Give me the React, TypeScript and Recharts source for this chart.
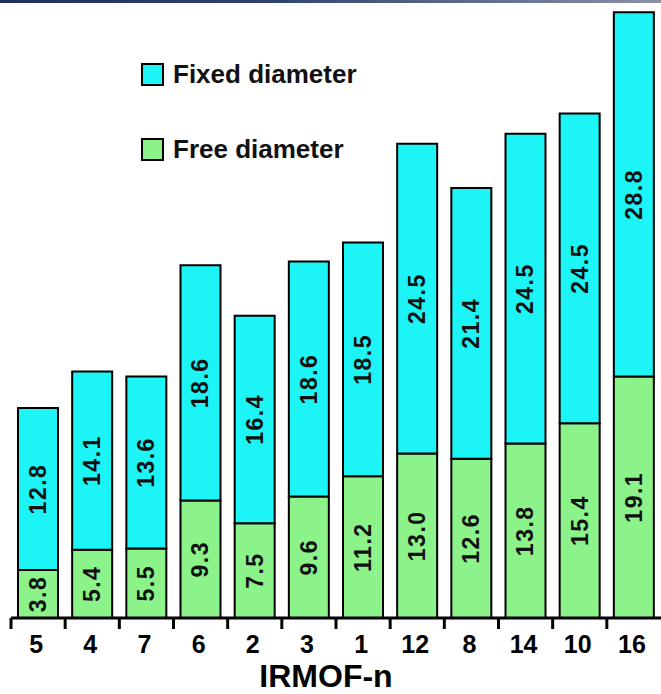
import React from "react";
import { BarChart, Bar, XAxis, YAxis, LabelList, Label } from "recharts";

const categories = ["5", "4", "7", "6", "2", "3", "1", "12", "8", "14", "10", "16"];
const freeDiameter = [3.8, 5.4, 5.5, 9.3, 7.5, 9.6, 11.2, 13.0, 12.6, 13.8, 15.4, 19.1];
const fixedDiameter = [12.8, 14.1, 13.6, 18.6, 16.4, 18.6, 18.5, 24.5, 21.4, 24.5, 24.5, 28.8];

const series = [
  { key: "fixed", name: "Fixed diameter", color: "#1cf4f6" },
  { key: "free", name: "Free diameter", color: "#8cf28a" },
];

const data = categories.map((c, i) => ({
  name: c,
  free: freeDiameter[i],
  fixed: fixedDiameter[i],
}));

const W = 661;
const H = 694;
const margin = { top: 11, right: 0, left: 11, bottom: 0 };
const step = (W - margin.left - margin.right) / categories.length;
const FONT = "'Liberation Sans', Arial, Helvetica, sans-serif";

const BarValue = (props: any) => {
  const { x, y, width, height, value } = props;
  const cx = x + width / 2;
  const cy = y + height / 2;
  return (
    <text
      x={cx}
      y={cy}
      transform={`rotate(-90 ${cx} ${cy})`}
      textAnchor="middle"
      dominantBaseline="central"
      fontFamily={FONT}
      fontWeight="bold"
      fontSize={23}
      letterSpacing={1.5}
      fill="#111"
    >
      {Number(value).toFixed(1)}
    </text>
  );
};

const Tick = (props: any) => {
  const { x, y, payload } = props;
  const left = x - step / 2;
  return (
    <g>
      <line x1={left} y1={y} x2={left} y2={y + 11} stroke="#000" strokeWidth={3} />
      <text
        x={x - 2}
        y={y + 35}
        textAnchor="middle"
        fontFamily={FONT}
        fontWeight="bold"
        fontSize={25}
        fill="#000"
      >
        {payload.value}
      </text>
    </g>
  );
};

const LegendBox = () => (
  <div style={{ position: "absolute", left: 141, top: 60 }}>
    {series.map((it, i) => (
      <div
        key={it.key}
        style={{
          display: "flex",
          alignItems: "center",
          height: 28,
          marginBottom: i === 0 ? 47 : 0,
        }}
      >
        <span
          style={{
            width: 19,
            height: 19,
            background: it.color,
            border: "2.5px solid #000",
            display: "inline-block",
            marginRight: 9,
          }}
        />
        <span style={{ fontFamily: FONT, fontWeight: "bold", fontSize: 26, color: "#111" }}>
          {it.name}
        </span>
      </div>
    ))}
  </div>
);

export default function App() {
  return (
    <div style={{ position: "absolute", left: 0, top: 0, width: W, height: H, background: "#fff" }}>
      <div
        style={{
          position: "absolute",
          left: 0,
          top: 0,
          width: W,
          height: 3,
          background: "linear-gradient(to right, #1c3160, #2e4270 40%, #8c90a4)",
        }}
      />
      <BarChart width={W} height={H} data={data} margin={margin}>
        <YAxis hide domain={[0, 48]} allowDataOverflow />
        <XAxis
          dataKey="name"
          height={76}
          axisLine={{ stroke: "#000", strokeWidth: 3 }}
          tickLine={false}
          tickSize={0}
          tickMargin={0}
          interval={0}
          tick={<Tick />}
        >
          <Label
            content={(p: any) => {
              const vb = p.viewBox;
              return (
                <text
                  x={vb.x + vb.width / 2 - 10}
                  y={vb.y + 69}
                  textAnchor="middle"
                  fontFamily={FONT}
                  fontWeight="bold"
                  fontSize={32}
                  fill="#000"
                >
                  IRMOF-n
                </text>
              );
            }}
          />
        </XAxis>
        {series
          .slice()
          .reverse()
          .map((s) => (
            <Bar
              key={s.key}
              dataKey={s.key}
              name={s.name}
              stackId="a"
              fill={s.color}
              stroke="#000"
              strokeWidth={2}
              barSize={40}
              isAnimationActive={false}
            >
              <LabelList dataKey={s.key} content={<BarValue />} />
            </Bar>
          ))}
      </BarChart>
      <LegendBox />
    </div>
  );
}
